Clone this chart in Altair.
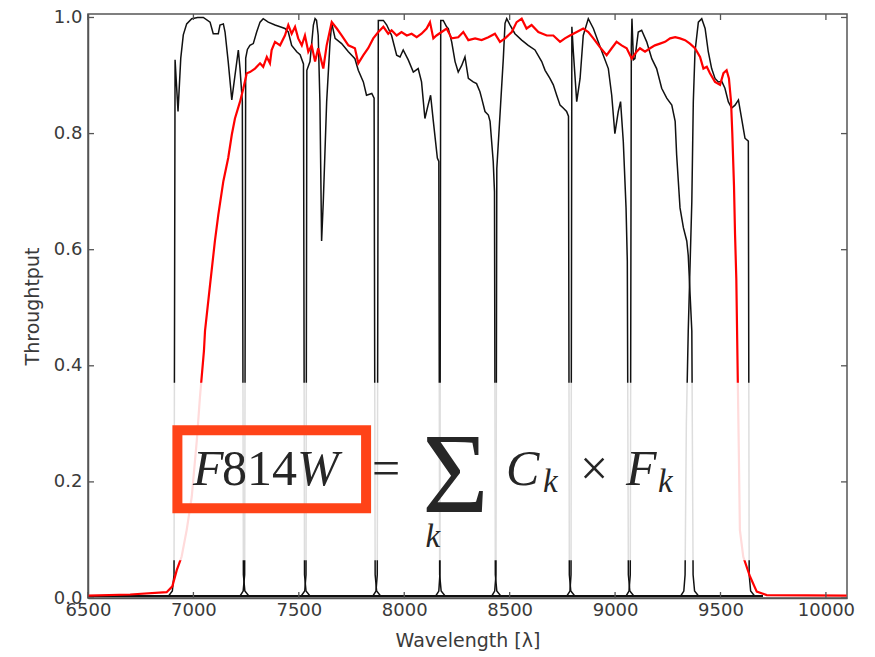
import altair as alt
import pandas as pd

# ---------------- axes ----------------
X_TICKS = [6500, 7000, 7500, 8000, 8500, 9000, 9500, 10000]
Y_TICKS = [0.0, 0.2, 0.4, 0.6, 0.8, 1.0]
X_DOMAIN = [6500, 10100]
Y_DOMAIN = [0, 1.006]

# ---------------- F814W throughput (red) ----------------
RED = [(6500, 0.004), (6700, 0.006), (6873, 0.01), (6900, 0.02), (6921, 0.048), (6944, 0.071),
       (6968, 0.117), (6992, 0.174), (7016, 0.271), (7031, 0.346), (7050, 0.426), (7055, 0.46),
       (7079, 0.54), (7102, 0.615), (7118, 0.66), (7142, 0.718), (7165, 0.758), (7182, 0.798),
       (7197, 0.826), (7221, 0.855), (7237, 0.878), (7253, 0.904), (7268, 0.906), (7292, 0.912),
       (7316, 0.921), (7331, 0.915), (7348, 0.932), (7363, 0.921), (7371, 0.944), (7387, 0.958),
       (7411, 0.952), (7434, 0.969), (7450, 0.987), (7466, 0.972), (7482, 0.984), (7497, 0.964),
       (7514, 0.952), (7529, 0.969), (7545, 0.941), (7561, 0.952), (7577, 0.924), (7592, 0.947),
       (7616, 0.912), (7632, 0.952), (7656, 0.992), (7680, 0.981), (7703, 0.969), (7735, 0.952),
       (7766, 0.947), (7782, 0.921), (7806, 0.935), (7829, 0.947), (7853, 0.964), (7877, 0.975),
       (7901, 0.984), (7924, 0.972), (7940, 0.978), (7964, 0.969), (7987, 0.975), (8012, 0.969),
       (8035, 0.972), (8059, 0.966), (8082, 0.972), (8106, 0.981), (8122, 0.992), (8138, 0.964),
       (8153, 0.969), (8177, 0.975), (8201, 0.981), (8225, 0.964), (8256, 0.966), (8280, 0.975),
       (8304, 0.961), (8336, 0.964), (8367, 0.961), (8399, 0.966), (8430, 0.972), (8454, 0.958),
       (8478, 0.964), (8510, 0.975), (8533, 0.992), (8557, 0.998), (8580, 0.981), (8604, 0.987),
       (8636, 0.975), (8676, 0.969), (8707, 0.969), (8739, 0.958), (8762, 0.964), (8786, 0.969),
       (8818, 0.975), (8849, 0.981), (8873, 0.975), (8897, 0.964), (8928, 0.949), (8960, 0.935),
       (8984, 0.947), (9007, 0.958), (9031, 0.952), (9055, 0.947), (9079, 0.929), (9102, 0.941),
       (9118, 0.947), (9142, 0.941), (9166, 0.947), (9189, 0.952), (9213, 0.955), (9237, 0.958),
       (9261, 0.964), (9285, 0.966), (9308, 0.964), (9332, 0.961), (9355, 0.955), (9379, 0.947),
       (9403, 0.932), (9419, 0.912), (9435, 0.915), (9450, 0.904), (9474, 0.889), (9498, 0.884),
       (9514, 0.904), (9529, 0.909), (9540, 0.895), (9550, 0.855), (9556, 0.80), (9564, 0.71),
       (9569, 0.626), (9575, 0.55), (9581, 0.40), (9587, 0.25), (9592, 0.117), (9608, 0.071),
       (9640, 0.037), (9672, 0.011), (9719, 0.005), (10098, 0.004)]

# ---------------- narrow filters F_k (black) ----------------
K1 = [(6500, 0.004), (6883, 0.004), (6900, 0.012), (6908, 0.04), (6913, 0.927), (6927, 0.838),
      (6940, 0.93), (6952, 0.97), (6968, 0.989), (6992, 0.998), (7020, 1.0), (7047, 1.0),
      (7079, 0.992), (7094, 0.972), (7118, 0.972), (7126, 0.987), (7142, 0.989), (7150, 0.975),
      (7165, 0.924), (7182, 0.858), (7197, 0.90), (7213, 0.944), (7221, 0.912), (7232, 0.855),
      (7237, 0.04), (7244, 0.012), (7262, 0.004), (9700, 0.004)]
K2 = [(6500, 0.004), (7222, 0.004), (7236, 0.012), (7243, 0.04), (7248, 0.93), (7256, 0.945),
      (7268, 0.952), (7284, 0.955), (7300, 0.975), (7316, 0.992), (7331, 0.998), (7355, 0.992),
      (7387, 0.987), (7411, 0.984), (7434, 0.981), (7450, 0.975), (7466, 0.952), (7490, 0.941),
      (7506, 0.936), (7522, 0.92), (7527, 0.04), (7534, 0.012), (7552, 0.004), (9700, 0.004)]
K3 = [(6500, 0.004), (7512, 0.004), (7528, 0.012), (7534, 0.04), (7538, 0.909), (7553, 0.924),
      (7569, 0.987), (7577, 0.998), (7584, 0.995), (7592, 0.969), (7600, 0.855), (7608, 0.615),
      (7616, 0.683), (7632, 0.855), (7648, 0.958), (7656, 0.99), (7672, 0.964), (7703, 0.955),
      (7735, 0.941), (7766, 0.929), (7782, 0.909), (7806, 0.889), (7821, 0.866), (7846, 0.869),
      (7857, 0.861), (7862, 0.04), (7869, 0.012), (7887, 0.004), (9700, 0.004)]
K4 = [(6500, 0.004), (7852, 0.004), (7866, 0.012), (7872, 0.04), (7877, 0.995), (7901, 0.995),
      (7917, 0.987), (7940, 0.969), (7964, 0.935), (7980, 0.932), (7995, 0.944), (8019, 0.927),
      (8043, 0.906), (8066, 0.912), (8082, 0.889), (8098, 0.826), (8113, 0.849), (8125, 0.866),
      (8138, 0.821), (8157, 0.758), (8164, 0.752), (8168, 0.04), (8175, 0.012), (8193, 0.004),
      (9700, 0.004)]
K5 = [(6500, 0.004), (8150, 0.004), (8164, 0.012), (8169, 0.04), (8173, 0.995), (8185, 0.995),
      (8201, 0.984), (8209, 0.981), (8225, 0.958), (8241, 0.924), (8256, 0.906), (8272, 0.917),
      (8288, 0.932), (8304, 0.895), (8327, 0.889), (8343, 0.886), (8359, 0.872), (8367, 0.861),
      (8383, 0.838), (8399, 0.832), (8407, 0.821), (8422, 0.752), (8428, 0.70), (8432, 0.04),
      (8439, 0.012), (8457, 0.004), (9700, 0.004)]
K6 = [(6500, 0.004), (8416, 0.004), (8429, 0.012), (8435, 0.04), (8439, 0.74), (8457, 0.85),
      (8470, 0.93), (8478, 0.99), (8486, 0.998), (8502, 0.987), (8525, 0.972), (8557, 0.961),
      (8588, 0.952), (8620, 0.944), (8652, 0.924), (8668, 0.909), (8691, 0.895), (8707, 0.884),
      (8723, 0.866), (8739, 0.849), (8754, 0.844), (8770, 0.838), (8779, 0.83), (8783, 0.04),
      (8790, 0.012), (8808, 0.004), (9700, 0.004)]
K7 = [(6500, 0.004), (8772, 0.004), (8786, 0.012), (8791, 0.04), (8795, 0.984), (8802, 0.941),
      (8818, 0.855), (8834, 0.895), (8849, 0.969), (8873, 0.998), (8897, 0.981), (8920, 0.958),
      (8944, 0.935), (8968, 0.912), (8984, 0.866), (8999, 0.80), (9015, 0.838), (9026, 0.855),
      (9039, 0.786), (9052, 0.672), (9058, 0.58), (9063, 0.04), (9070, 0.012), (9088, 0.004),
      (9700, 0.004)]
K8 = [(6500, 0.004), (9053, 0.004), (9066, 0.012), (9072, 0.04), (9077, 0.95), (9080, 0.998),
      (9087, 0.927), (9094, 0.929), (9110, 0.975), (9126, 0.978), (9150, 0.958), (9174, 0.929),
      (9197, 0.912), (9221, 0.878), (9245, 0.861), (9269, 0.849), (9285, 0.821), (9292, 0.763),
      (9308, 0.672), (9324, 0.638), (9340, 0.615), (9347, 0.59), (9364, 0.46), (9370, 0.04),
      (9377, 0.012), (9395, 0.004), (9700, 0.004)]
K9 = [(6500, 0.004), (9312, 0.004), (9326, 0.012), (9332, 0.04), (9338, 0.3), (9347, 0.46),
      (9364, 0.683), (9371, 0.855), (9379, 0.941), (9395, 0.992), (9411, 0.998), (9427, 0.981),
      (9442, 0.941), (9458, 0.912), (9474, 0.895), (9490, 0.889), (9506, 0.89), (9521, 0.878),
      (9537, 0.855), (9553, 0.844), (9569, 0.849), (9585, 0.858), (9600, 0.826), (9616, 0.792),
      (9632, 0.787), (9636, 0.04), (9643, 0.012), (9661, 0.004), (9700, 0.004)]
FILTERS = [K1, K2, K3, K4, K5, K6, K7, K8, K9]

# ---------------- annotation ----------------
FADE_BOX = {"x": 6780, "x2": 9830, "y": 0.065, "y2": 0.371}
RED_BOX = {"x": 6924, "x2": 7819, "y": 0.1545, "y2": 0.289}
EQ_UPRIGHT = [("814", 7136, 0.194, 50), ("=", 7847, 0.194, 50), ("\u03a3", 8085, 0.148, 114),
              ("\u00d7", 8834, 0.194, 50)]
EQ_ITALIC = [("F", 6998, 0.194, 50), ("W", 7491, 0.194, 50), ("k", 8101, 0.088, 33),
             ("C", 8483, 0.194, 50), ("k", 8658, 0.182, 33), ("F", 9052, 0.194, 50),
             ("k", 9204, 0.182, 33)]

W, H = 759, 584

# ---------------- build tables ----------------
red_df = pd.DataFrame([{"i": i, "w": w, "t": t} for i, (w, t) in enumerate(RED)])
blk_df = pd.DataFrame([{"f": k, "i": i, "w": w, "t": t}
                       for k, flt in enumerate(FILTERS) for i, (w, t) in enumerate(flt)])
up_df = pd.DataFrame([{"s": s, "w": w, "t": t, "size": z} for s, w, t, z in EQ_UPRIGHT])
it_df = pd.DataFrame([{"s": s, "w": w, "t": t, "size": z} for s, w, t, z in EQ_ITALIC])
xt_df = pd.DataFrame({"w": X_TICKS})
yt_df = pd.DataFrame({"t": Y_TICKS})

xs = alt.Scale(domain=X_DOMAIN, nice=False, zero=False)
ys = alt.Scale(domain=Y_DOMAIN, nice=False, zero=False)

x_axis = alt.Axis(values=X_TICKS, format="d", labelPadding=3, labelFlush=False,
                  title="Wavelength [\u03bb]", titleY=42, titleBaseline="middle")
y_axis = alt.Axis(values=Y_TICKS, format=".1f", labelPadding=6, labelFlush=False,
                  title="Throughtput", titleX=-56, titleBaseline="middle")

black = alt.Chart(blk_df).mark_line(color="#111111", strokeWidth=1.5, clip=True).encode(
    x=alt.X("w:Q", scale=xs, axis=x_axis),
    y=alt.Y("t:Q", scale=ys, axis=y_axis),
    detail="f:N",
    order="i:Q",
)

red = alt.Chart(red_df).mark_line(color="#ff0000", strokeWidth=2.2, clip=True).encode(
    x=alt.X("w:Q", scale=xs), y=alt.Y("t:Q", scale=ys), order="i:Q"
)

fade = alt.Chart(pd.DataFrame([FADE_BOX])).mark_rect(color="white", opacity=0.86).encode(
    x=alt.X("x:Q", scale=xs), x2="x2:Q", y=alt.Y("y:Q", scale=ys), y2="y2:Q"
)

box = alt.Chart(pd.DataFrame([RED_BOX])).mark_rect(
    filled=False, stroke="#ff4318", strokeWidth=10
).encode(x=alt.X("x:Q", scale=xs), x2="x2:Q", y=alt.Y("y:Q", scale=ys), y2="y2:Q")

txt_up = alt.Chart(up_df).mark_text(
    font="Liberation Serif", align="left", baseline="alphabetic", color="#262626"
).encode(x=alt.X("w:Q", scale=xs), y=alt.Y("t:Q", scale=ys), text="s:N",
         size=alt.Size("size:Q", scale=None))

txt_it = alt.Chart(it_df).mark_text(
    font="Liberation Serif", fontStyle="italic", align="left", baseline="alphabetic",
    color="#262626"
).encode(x=alt.X("w:Q", scale=xs), y=alt.Y("t:Q", scale=ys), text="s:N",
         size=alt.Size("size:Q", scale=None))

# inward ticks on all four sides
tick_b = alt.Chart(xt_df).mark_rule(color="#555", strokeWidth=1.3).encode(
    x=alt.X("w:Q", scale=xs), y=alt.value(H), y2=alt.value(H - 6))
tick_t = alt.Chart(xt_df).mark_rule(color="#555", strokeWidth=1.3).encode(
    x=alt.X("w:Q", scale=xs), y=alt.value(0), y2=alt.value(6))
tick_l = alt.Chart(yt_df).mark_rule(color="#555", strokeWidth=1.3).encode(
    y=alt.Y("t:Q", scale=ys), x=alt.value(0), x2=alt.value(6))
tick_r = alt.Chart(yt_df).mark_rule(color="#555", strokeWidth=1.3).encode(
    y=alt.Y("t:Q", scale=ys), x=alt.value(W), x2=alt.value(W - 6))

chart = alt.layer(black, red, fade, box, txt_up, txt_it, tick_b, tick_t, tick_l, tick_r).properties(
    width=W, height=H,
    autosize=alt.AutoSizeParams(type="none"),
    padding={"left": 80, "top": 6, "right": 20, "bottom": 53},
    background="white",
).configure_axis(
    labelFont="DejaVu Sans", labelFontSize=18, labelColor="#3a3a3a",
    titleFont="DejaVu Sans", titleFontSize=19, titleFontWeight="normal", titleColor="#3a3a3a",
    domainColor="#555", domainWidth=1.5, grid=False, ticks=False,
).configure_view(stroke="#555", strokeWidth=1.5)

chart.save("out.html", embed_options={"renderer": "svg", "actions": False})
